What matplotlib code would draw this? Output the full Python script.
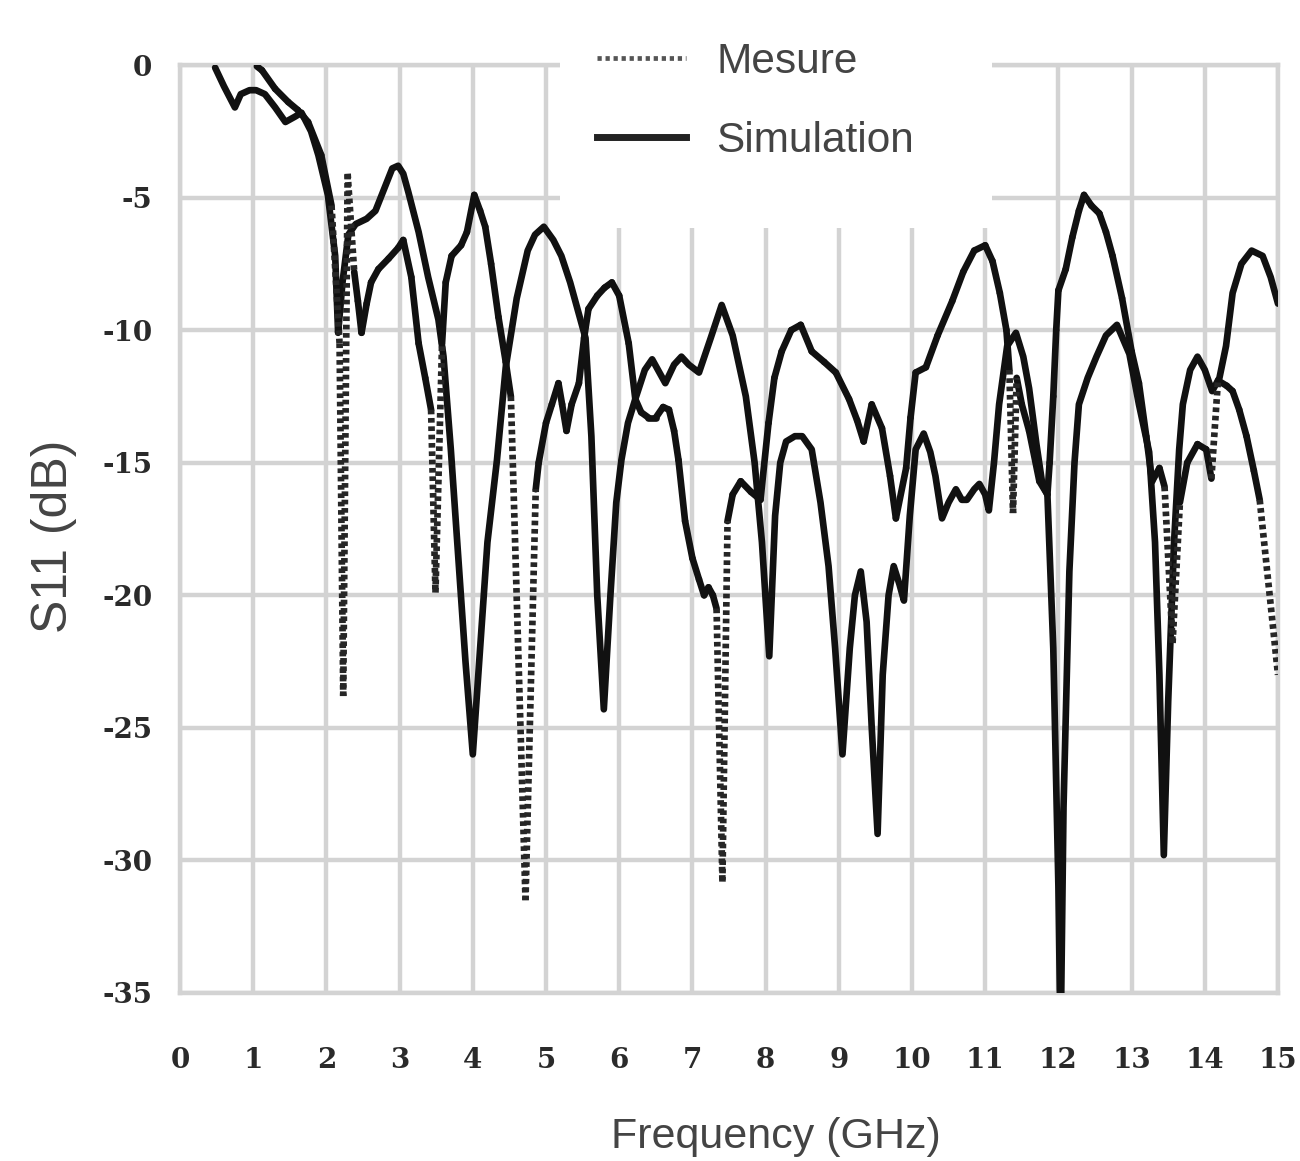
import numpy as np
import matplotlib.pyplot as plt
from matplotlib.collections import LineCollection
from matplotlib.lines import Line2D
from matplotlib.patches import Rectangle

# Simulation (solid)
sim_f = [0.48, 0.6, 0.75, 0.83, 0.95, 1.04, 1.16, 1.3, 1.44, 1.57, 1.66, 1.79, 1.89, 2.02, 2.12, 2.16,
         2.22, 2.3, 2.4, 2.55, 2.67, 2.8, 2.9, 2.98, 3.05, 3.12, 3.26, 3.39, 3.53, 3.6, 3.7, 3.8, 3.9,
         4.0, 4.1, 4.2, 4.33, 4.45, 4.6, 4.75, 4.85, 4.97, 5.1, 5.21, 5.33, 5.44, 5.54, 5.62, 5.7, 5.79,
         5.88, 5.96, 6.03, 6.12, 6.22, 6.35, 6.45, 6.55, 6.63, 6.75, 6.85, 6.95, 7.09, 7.25, 7.4, 7.55,
         7.73, 7.85, 7.95, 8.05, 8.13, 8.2, 8.28, 8.4, 8.5, 8.63, 8.75, 8.86, 8.95, 9.05, 9.15, 9.22,
         9.3, 9.38, 9.45, 9.53, 9.6, 9.68, 9.75, 9.83, 9.89, 9.97, 10.05, 10.16, 10.25, 10.32, 10.41,
         10.5, 10.6, 10.68, 10.75, 10.85, 10.92, 11.0, 11.05, 11.12, 11.19, 11.3, 11.42, 11.52, 11.6,
         11.7, 11.78, 11.85, 11.93, 12.0, 12.03, 12.07, 12.15, 12.22, 12.28, 12.4, 12.52, 12.65, 12.8,
         12.97, 13.1, 13.24, 13.32, 13.38, 13.44, 13.5, 13.58, 13.65, 13.7, 13.8, 13.9, 14.0, 14.1,
         14.2, 14.29, 14.38, 14.5, 14.64, 14.79, 14.9, 15.0]
sim_s11 = [-0.1, -0.8, -1.6, -1.1, -0.95, -0.95, -1.1, -1.6, -2.15, -1.95, -1.8, -2.5, -3.4, -4.9, -7.2, -10.1,
           -8.2, -6.4, -6.0, -5.8, -5.5, -4.6, -3.9, -3.8, -4.1, -4.8, -6.3, -8.0, -9.6, -11.0, -14.5, -18.5, -22.5,
           -26.0, -22.0, -18.0, -14.9, -11.4, -8.8, -7.0, -6.4, -6.1, -6.6, -7.2, -8.2, -9.3, -10.3, -14.0, -20.0, -24.3,
           -20.0, -16.5, -14.9, -13.5, -12.6, -11.5, -11.1, -11.6, -12.0, -11.3, -11.0, -11.3, -11.6, -10.3, -9.05, -10.2,
           -12.5, -15.0, -18.0, -22.3, -17.0, -15.0, -14.2, -14.0, -14.0, -14.5, -16.5, -18.9, -22.0, -26.0, -22.0, -20.0,
           -19.1, -21.0, -25.0, -29.0, -23.0, -20.0, -18.9, -19.6, -20.2, -17.0, -14.5, -13.9, -14.6, -15.5, -17.1,
           -16.5, -16.0, -16.4, -16.4, -16.0, -15.8, -16.2, -16.8, -15.0, -12.8, -10.6, -10.1, -11.0, -12.2,
           -14.3, -15.8, -16.2, -22.0, -31.0, -37.0, -28.0, -19.1, -15.0, -12.8, -11.8, -11.0, -10.2, -9.8,
           -10.9, -12.8, -14.6, -18.0, -23.0, -29.8, -24.0, -18.0, -14.5, -12.8, -11.5, -11.0, -11.5, -12.3,
           -11.8, -10.6, -8.6, -7.5, -7.0, -7.2, -8.0, -9.0]

# Mesure (dotted where the trace jumps)
mes_f = [1.05, 1.12, 1.3, 1.48, 1.61, 1.75, 1.93, 2.07, 2.18, 2.23, 2.29, 2.38, 2.43, 2.48, 2.55, 2.61,
         2.71, 2.85, 2.98, 3.05, 3.16, 3.26, 3.35, 3.43, 3.49, 3.58, 3.63, 3.71, 3.84, 3.92, 4.02, 4.1,
         4.17, 4.25, 4.35, 4.45, 4.52, 4.72, 4.86, 4.9, 5.0, 5.08, 5.17, 5.22, 5.28, 5.35, 5.45, 5.52,
         5.58, 5.7, 5.8, 5.9, 6.0, 6.13, 6.22, 6.3, 6.4, 6.5, 6.6, 6.68, 6.75, 6.81, 6.9, 7.0, 7.09,
         7.16, 7.22, 7.28, 7.33, 7.41, 7.48, 7.55, 7.66, 7.8, 7.93, 8.04, 8.12, 8.22, 8.35, 8.48, 8.63,
         8.8, 8.96, 9.14, 9.25, 9.34, 9.45, 9.59, 9.7, 9.78, 9.92, 9.98, 10.05, 10.19, 10.35, 10.55, 10.7,
         10.85, 11.0, 11.1, 11.2, 11.29, 11.33, 11.38, 11.43, 11.5, 11.6, 11.74, 11.85, 11.88, 11.93,
         11.97, 12.0, 12.1, 12.19, 12.28, 12.35, 12.45, 12.56, 12.65, 12.74, 12.87, 13.0, 13.1, 13.2,
         13.28, 13.38, 13.45, 13.56, 13.66, 13.76, 13.9, 14.02, 14.09, 14.18, 14.3, 14.38, 14.47, 14.57,
         14.67, 14.75, 15.0]
mes_s11 = [-0.05, -0.2, -0.9, -1.4, -1.7, -2.15, -3.4, -5.3, -10.5, -23.8, -4.1, -7.8, -8.9, -10.1, -9.0, -8.2,
           -7.7, -7.3, -6.9, -6.6, -8.0, -10.5, -11.8, -13.0, -19.9, -10.5, -8.2, -7.2, -6.8, -6.3, -4.9, -5.5,
           -6.1, -7.5, -9.5, -11.2, -12.5, -31.5, -16.0, -15.0, -13.5, -12.8, -12.0, -12.8, -13.8, -12.8, -12.0, -10.3,
           -9.2, -8.7, -8.4, -8.2, -8.7, -10.5, -12.6, -13.1, -13.3, -13.3, -12.9, -13.0, -13.8, -14.9, -17.2, -18.6, -19.4,
           -20.0, -19.7, -20.0, -20.5, -30.8, -17.2, -16.2, -15.7, -16.1, -16.4, -13.5, -11.8, -10.8, -10.0, -9.8, -10.8,
           -11.2, -11.6, -12.6, -13.4, -14.2, -12.8, -13.7, -15.5, -17.1, -15.2, -13.3, -11.6, -11.4, -10.2, -8.9, -7.8,
           -7.0, -6.8, -7.4, -8.6, -10.0, -11.5, -16.9, -11.8, -12.8, -13.8, -15.7, -16.2, -15.0, -12.5,
           -10.0, -8.5, -7.7, -6.5, -5.5, -4.9, -5.3, -5.6, -6.3, -7.2, -8.8, -10.8, -12.0, -14.0,
           -15.7, -15.2, -15.9, -21.8, -16.5, -15.0, -14.3, -14.5, -15.6, -11.9, -12.1, -12.3, -13.0, -14.0,
           -15.3, -16.4, -23.0]

xticks = list(range(0, 16))
yticks = list(range(-35, 1, 5))

line_col = '#111111'
grid_col = '#d3d3d3'
lw = 4.8

fig = plt.figure(figsize=(13, 11.61), dpi=100)
ax = fig.add_axes([180 / 1300, 1 - 993 / 1161, 1098 / 1300, 928 / 1161])
ax.set_xlim(0, 15)
ax.set_ylim(-35, 0)

ax.set_xticks(xticks)
ax.set_yticks(yticks)
ax.set_xticklabels([str(v) for v in xticks])
ax.set_yticklabels([str(v) for v in yticks])
ax.grid(True, color=grid_col, linewidth=3.2)
ax.set_axisbelow(True)
for sp in ax.spines.values():
    sp.set_color(grid_col)
    sp.set_linewidth(3.2)
ax.tick_params(length=0, labelsize=20, colors='#2a2a2a')
ax.tick_params(axis='y', pad=20)
ax.tick_params(axis='x', pad=39)
for lab in ax.get_xticklabels() + ax.get_yticklabels():
    lab.set_family('DejaVu Serif')
    lab.set_fontweight('bold')

# simulation curve
ax.plot(sim_f, sim_s11, color=line_col, lw=lw, solid_joinstyle='round',
        solid_capstyle='round', zorder=3)

# measured curve: long jumps between samples show up dotted
pts = ax.transData.transform(np.column_stack([mes_f, mes_s11]))
segs = np.stack([np.column_stack([mes_f[:-1], mes_s11[:-1]]),
                 np.column_stack([mes_f[1:], mes_s11[1:]])], axis=1)
seg_len = np.hypot(*np.diff(pts, axis=0).T)
long_seg = seg_len > 90
ax.add_collection(LineCollection(segs[~long_seg], colors=line_col, linewidths=lw,
                                 capstyle='round', joinstyle='round', zorder=3))
ax.add_collection(LineCollection(segs[long_seg], colors='#262626', linewidths=lw,
                                 linestyles=[(0, (0.7, 0.55))], capstyle='butt', zorder=3))

# white block behind the legend, hiding the grid there
ax.add_patch(Rectangle((560 / 1300, 1 - 228 / 1161), 432 / 1300, 228 / 1161,
                       transform=fig.transFigure, facecolor='white', edgecolor='none',
                       clip_on=False, zorder=2.7))

handles = [Line2D([], [], color='#555555', lw=3.4, linestyle=(0, (0.9, 0.8))),
           Line2D([], [], color='#222222', lw=5)]
leg = ax.legend(handles, ['Mesure', 'Simulation'], loc='upper left',
                bbox_to_anchor=(597 / 1300, 1 - 42 / 1161), bbox_transform=fig.transFigure,
                prop={'family': 'Liberation Sans', 'size': 30.5}, frameon=False,
                handlelength=2.1, handletextpad=0.72, borderpad=0, labelspacing=0.92,
                borderaxespad=0)
for t in leg.get_texts():
    t.set_color('#444444')

fig.text(776 / 1300, 1 - 1137 / 1161, 'Frequency (GHz)', ha='center', va='center',
         fontsize=31, family='Liberation Sans', color='#444444')
fig.text(54 / 1300, 1 - 536 / 1161, 'S11 (dB)', ha='center', va='center', rotation=90,
         fontsize=36, family='Liberation Sans', color='#444444')

fig.savefig('out.png', dpi=100)
